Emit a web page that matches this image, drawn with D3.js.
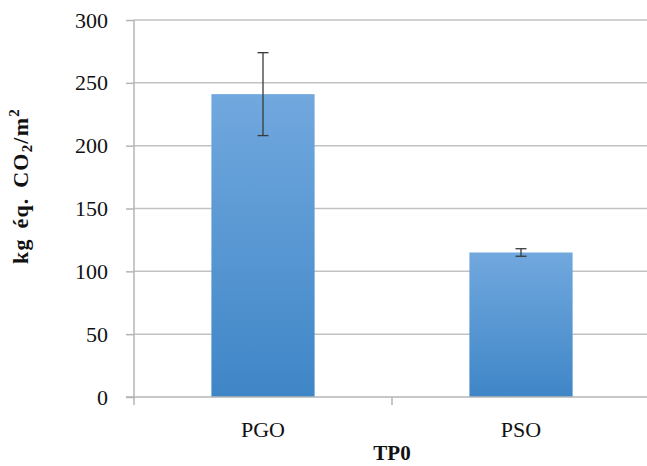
<!DOCTYPE html>
<html><head><meta charset="utf-8">
<script src="https://cdn.jsdelivr.net/npm/d3@7"></script>
<style>body{margin:0;background:#fff}svg{display:block}text{font-family:"Liberation Serif","DejaVu Serif",serif}</style>
</head><body><svg id="c" width="647" height="466"></svg>
<script>
const categories = ["PGO", "PSO"];
const values = [241, 115];
const errors = [33, 3];
const yTicks = [0, 50, 100, 150, 200, 250, 300];
const xTitle = "TP0";

const svg = d3.select("#c");
const m = {left:134, right:650, top:20, bottom:397};
const xb = d3.scaleBand().domain(categories).range([m.left, m.right]);
const y = d3.scaleLinear().domain([0,300]).range([m.bottom, m.top]);

const defs = svg.append("defs");
const g = defs.append("linearGradient").attr("id","bg").attr("x1",0).attr("y1",0).attr("x2",0).attr("y2",1);
g.append("stop").attr("offset","0%").attr("stop-color","#71a8de");
g.append("stop").attr("offset","100%").attr("stop-color","#3f86c7");

// gridlines
svg.append("g").selectAll("line").data(yTicks.filter(d=>d>0)).join("line")
  .attr("x1",m.left).attr("x2",647).attr("y1",d=>y(d)).attr("y2",d=>y(d))
  .attr("stroke","#c2c2c2").attr("stroke-width",1.5);

// bars
svg.append("g").selectAll("rect").data(categories).join("rect")
  .attr("x",d=>xb(d)+xb.bandwidth()*0.3).attr("width",xb.bandwidth()*0.4)
  .attr("y",(d,i)=>y(values[i])).attr("height",(d,i)=>y(0)-y(values[i]))
  .attr("fill","url(#bg)");

// error bars
const eg = svg.append("g").attr("stroke","#3a3a3a").attr("stroke-width",1.3);
categories.forEach((c,i)=>{
  const cx = xb(c)+xb.bandwidth()/2;
  eg.append("line").attr("x1",cx).attr("x2",cx).attr("y1",y(values[i]+errors[i])).attr("y2",y(values[i]-errors[i]));
  [values[i]+errors[i], values[i]-errors[i]].forEach(v=>{
    eg.append("line").attr("x1",cx-5.5).attr("x2",cx+5.5).attr("y1",y(v)).attr("y2",y(v));
  });
});

// y axis
const ya = svg.append("g").attr("transform",`translate(${m.left},0)`)
  .call(d3.axisLeft(y).tickValues(yTicks).tickSize(8).tickPadding(18));
ya.select(".domain").attr("stroke","#b5b5b5").attr("stroke-width",1.5).attr("d",`M0,${m.top}V${m.bottom}`);
ya.selectAll(".tick line").attr("stroke","#b5b5b5").attr("stroke-width",1.5);
ya.selectAll(".tick text").attr("font-size",22).attr("fill","#111").style("font-family","'Liberation Serif',serif");

// x axis
const xa = svg.append("g").attr("transform",`translate(0,${m.bottom})`);
xa.append("line").attr("x1",m.left-8).attr("x2",647).attr("y1",0).attr("y2",0).attr("stroke","#b5b5b5").attr("stroke-width",1.5);
[m.left, xb("PSO")].forEach(t=>xa.append("line").attr("x1",t).attr("x2",t).attr("y1",0).attr("y2",8).attr("stroke","#b5b5b5").attr("stroke-width",1.5));
xa.selectAll("text.cat").data(categories).join("text").attr("class","cat")
  .attr("x",d=>xb(d)+xb.bandwidth()/2).attr("y",40).attr("text-anchor","middle")
  .attr("font-size",22).attr("fill","#111").text(d=>d);

svg.append("text").attr("x",392).attr("y",460).attr("text-anchor","middle")
  .attr("font-size",21).attr("font-weight","bold").attr("fill","#111").text(xTitle);

const yl = svg.append("text").attr("transform","translate(28,186) rotate(-90)").attr("text-anchor","middle")
  .attr("font-size",22).attr("font-weight","bold").attr("fill","#111").attr("letter-spacing",1.2).attr("word-spacing",3);
yl.append("tspan").text("kg éq. CO");
yl.append("tspan").attr("font-size",15).attr("dy",4).text("2");
yl.append("tspan").attr("dy",-4).text("/m");
yl.append("tspan").attr("font-size",15).attr("dy",-9).text("2");
</script></body></html>
